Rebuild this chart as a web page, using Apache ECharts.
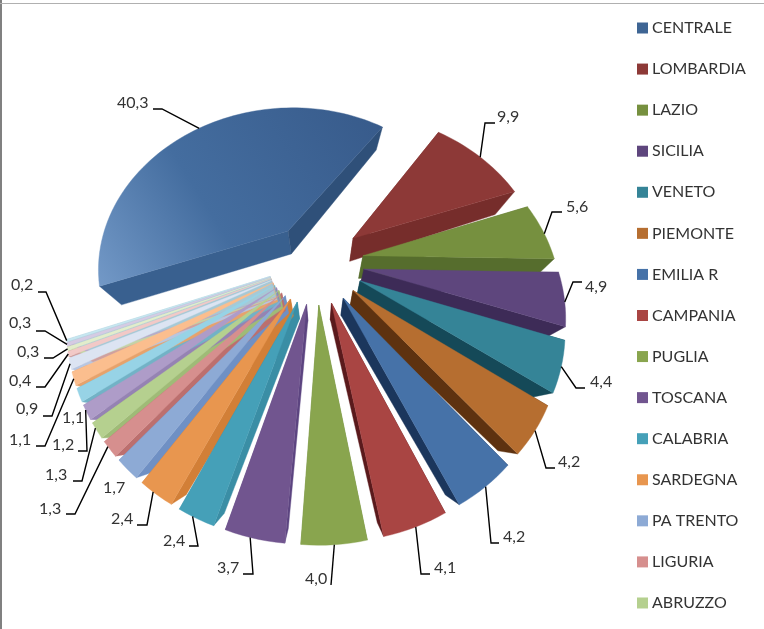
<!DOCTYPE html>
<html><head><meta charset="utf-8">
<style>html,body{margin:0;padding:0;background:#fff}#c{width:764px;height:629px}</style>
<script src="https://cdn.jsdelivr.net/npm/echarts@6/dist/echarts.min.js"></script>
</head><body><div id="c"></div>
<script>
const regions = ['CENTRALE','LOMBARDIA','LAZIO','SICILIA','VENETO','PIEMONTE','EMILIA R','CAMPANIA','PUGLIA','TOSCANA','CALABRIA','SARDEGNA','PA TRENTO','LIGURIA','ABRUZZO','MARCHE','FRIULI','UMBRIA','BASILICATA','PA BOLZANO','MOLISE','VALLE AOSTA','ALTRO'];
const shares = [40.3,9.9,5.6,4.9,4.4,4.2,4.2,4.1,4.0,3.7,2.4,2.4,1.7,1.3,1.3,1.2,1.1,1.1,0.9,0.4,0.3,0.3,0.2];
const legendCount = 15;
const topColors = ['#3E6594','#8D3937','#76903F','#5E467D','#358497','#B66E30','#4672A8','#A94543','#89A54E','#71558F','#45A0B8','#E8964F','#8DAAD5','#D68F8E','#B5D08F','#AE9CC8','#97D3E6','#FBBE8E','#DCE4F2','#F2C9C7','#E2EDCB','#D5CBE3','#C7E6F0'];
const startWalls = ['#39608F','#762D2B','#566D2D','#3D2B57','#154958','#5E3210','#1B365C','#5A1A1C','#6E8A3A','#5C4480','#3A8EA5','#D27F37','#6F90C4','#BC6F6E','#9FBB77','#9583B3','#72B2C6','#E6A26C','#B8C6E0','#CFA09F','#C4D3A6','#B7ABC9','#A6C9D6'];
const endWalls = ['#2F5079','#762D2B','#566D2D','#3D2B57','#154958','#5E3210','#1B365C','#5A1A1C','#6E8A3A','#5C4480','#3A8EA5','#D27F37','#6F90C4','#BC6F6E','#9FBB77','#9583B3','#72B2C6','#E6A26C','#B8C6E0','#CFA09F','#C4D3A6','#B7ABC9','#A6C9D6'];
// annotation layout: text x, text y, elbow x, elbow y, tail x, tail y (null = no leader)
const labelLayout = [
 [117,103,162,109,153,109],[497,117,485,123,495,123],[566,207,552,212,562,212],[585,287,573,282,582,282],
 [590,382,576,388,585,388],[558,462,546,468,555,468],[503,537,491,543,499,543],[434,568,421,574,430,574],
 [305,579,331,585,331,585],[217,568,253,574,243,574],[163,541,198,546,189,546],[111,519,147,525,137,525],
 [103,488,null,null,null,null],[39,509,75,514,66,514],[45,475,82,481,73,481],[52,445,87,451,78,451],
 [62,418,null,null,null,null],[9,440,45,446,36,446],[16,409,52,416,43,416],[9,381,45,387,36,387],
 [17,352,53,358,44,358],[9,323,45,331,36,331],[11,285,46,292,38,292]];

const view = {cx:316, cy:262, rx:240, ry:204, persp:0.28, explode:0.2, radius:0.8, startDeg:250, vpx:320, vpy:430, wallX:0.1, wallY:0.13, wallCap:23};
const total = shares.reduce((a,b)=>a+b,0);
const rad = d => d*Math.PI/180;
function proj(u,v){const s=1/(1-view.persp*v);return [view.cx+view.rx*u*s, view.cy+view.ry*v*s];}
function down(p){return [p[0]+view.wallX*(view.vpx-p[0]), p[1]+Math.min(view.wallCap,view.wallY*(view.vpy-p[1]))];}
function cumBefore(i){let c=0;for(let k=0;k<i;k++)c+=shares[k];return c;}

function renderSlice(idx){
 return function(params,api){
  const val=api.value(0);
  const a0=view.startDeg+cumBefore(idx)/total*360, a1=a0+val/total*360, m=rad((a0+a1)/2);
  const ou=view.explode*Math.sin(m), ov=-view.explode*Math.cos(m);
  const apex=proj(ou,ov), arc=[];
  const n=Math.max(2,Math.ceil((a1-a0)/2));
  for(let k=0;k<=n;k++){const t=rad(a0+(a1-a0)*k/n);arc.push(proj(ou+view.radius*Math.sin(t),ov-view.radius*Math.cos(t)));}
  const face=[apex].concat(arc);
  const aDown=down(apex), first=arc[0], last=arc[arc.length-1];
  const kids=[];
  const poly=(pts,fill,z2)=>({type:'polygon',shape:{points:pts},style:{fill:fill,stroke:fill,lineWidth:0.4},z2:z2,silent:true});
  kids.push(poly([apex,first,down(first),aDown],startWalls[idx],idx===0?3:2));
  kids.push(poly([apex,last,down(last),aDown],endWalls[idx],3));
  const fill=idx===0?new echarts.graphic.LinearGradient(1,0,0,1,[{offset:0,color:'#375A8A'},{offset:0.6,color:'#446D9F'},{offset:1,color:'#7399C7'}]):topColors[idx];
  kids.push(poly(face,fill,10));
  const L=labelLayout[idx];
  kids.push({type:'text',x:L[0],y:L[1],style:{text:String(val.toFixed(1)).replace('.',','),fill:'#333',font:'16px Lato',textAlign:'left',textVerticalAlign:'middle'},z2:30,silent:true});
  if(L[2]!==null){
   const tm=arc[Math.floor(arc.length/2)];
   kids.push({type:'polyline',shape:{points:[tm,[L[2],L[3]],[L[4],L[5]]]},style:{stroke:'#000',lineWidth:1.4,fill:null},z2:20,silent:true});
  }
  return {type:'group',children:kids};
 };
}

const chart=echarts.init(document.getElementById('c'),null,{renderer:'canvas'});
chart.setOption({
 animation:false,backgroundColor:'#fff',color:topColors,
 legend:{orient:'vertical',left:632,top:15,itemWidth:11,itemHeight:11,itemGap:25.07,icon:'rect',selectedMode:false,
  data:regions.slice(0,legendCount),textStyle:{fontFamily:'Lato',fontSize:16,color:'#333',padding:[0,0,0,-1]}},
 graphic:[
  {type:'rect',left:0,top:0,shape:{width:2,height:629},style:{fill:'#808080'},silent:true},
  {type:'rect',left:0,top:3,shape:{width:764,height:1},style:{fill:'#B0B0B0'},silent:true}],
 series:regions.map((name,i)=>({type:'custom',name:name,coordinateSystem:'none',silent:true,itemStyle:{color:topColors[i]},data:[[shares[i]]],renderItem:renderSlice(i)}))
});
</script></body></html>
